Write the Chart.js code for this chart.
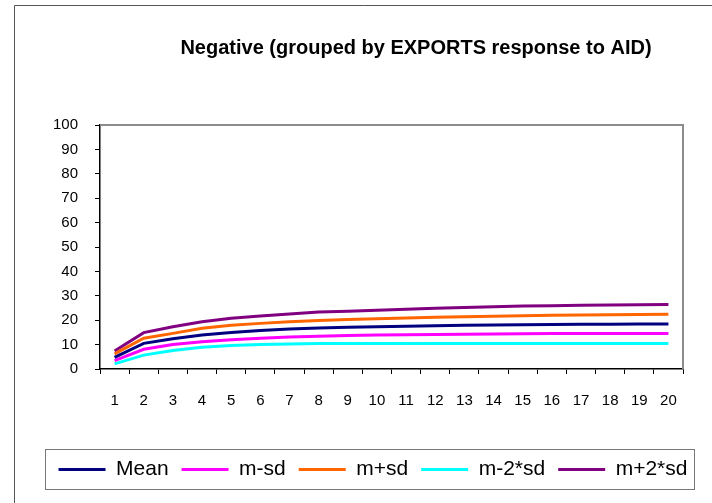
<!DOCTYPE html>
<html>
<head>
<meta charset="utf-8">
<script src="https://cdn.jsdelivr.net/npm/chart.js@4/dist/chart.umd.min.js"></script>
<style>
  html, body { margin: 0; padding: 0; background: #fff; }
  #wrap { width: 712px; height: 503px; }
</style>
</head>
<body>
<div id="wrap"><canvas id="sdChart" width="712" height="503"></canvas></div>
<script>
// Data
var steps = ["1","2","3","4","5","6","7","8","9","10","11","12","13","14","15","16","17","18","19","20"];
var meanVals  = [4.8, 10.5, 12.4, 13.9, 15.0, 15.8, 16.4, 16.8, 17.1, 17.3, 17.5, 17.7, 17.9, 18.0, 18.1, 18.2, 18.3, 18.3, 18.4, 18.4];
var mMinusSd  = [3.4, 8.1, 10.0, 11.2, 12.0, 12.6, 13.1, 13.4, 13.7, 13.9, 14.0, 14.1, 14.2, 14.3, 14.4, 14.5, 14.5, 14.5, 14.6, 14.6];
var mPlusSd   = [6.2, 12.6, 14.6, 16.7, 17.9, 18.7, 19.4, 19.9, 20.3, 20.6, 20.9, 21.2, 21.4, 21.6, 21.8, 22.0, 22.1, 22.2, 22.3, 22.4];
var mMinus2Sd = [2.1, 5.7, 7.6, 8.9, 9.6, 10.0, 10.2, 10.4, 10.4, 10.5, 10.5, 10.5, 10.5, 10.5, 10.5, 10.5, 10.5, 10.5, 10.5, 10.5];
var mPlus2Sd  = [7.4, 14.9, 17.3, 19.4, 20.8, 21.7, 22.5, 23.4, 23.7, 24.1, 24.5, 24.9, 25.2, 25.5, 25.8, 25.9, 26.1, 26.2, 26.3, 26.4];
var yTicks = [0, 10, 20, 30, 40, 50, 60, 70, 80, 90, 100];
var chartTitle = "Negative (grouped by EXPORTS response to AID)";

var FONT = "'Liberation Sans', Arial, Helvetica, sans-serif";

function series(label, values, color) {
    return {
        label: label,
        data: values,
        borderColor: color,
        backgroundColor: color,
        borderWidth: 3,
        pointRadius: 0,
        tension: 0,
        fill: false
    };
}

// Frame, plot box, legend box and the title
var framePlugin = {
    id: 'frame',
    afterLayout: function(chart) {
        // legend sits right of the canvas centre in the original
        chart.legend.left += 17;
        chart.legend.right += 17;
    },
    afterDraw: function(chart) {
        var ctx = chart.ctx;
        var a = chart.chartArea;
        ctx.save();
        // outer frame (only left and top show)
        ctx.strokeStyle = '#555';
        ctx.lineWidth = 1;
        ctx.beginPath();
        ctx.moveTo(14.5, 503);
        ctx.lineTo(14.5, 5.5);
        ctx.lineTo(712, 5.5);
        ctx.stroke();
        // gray top and right of the plot box
        ctx.strokeStyle = '#8c8c8c';
        ctx.lineWidth = 2;
        ctx.beginPath();
        ctx.moveTo(a.left, a.top);
        ctx.lineTo(a.right, a.top);
        ctx.lineTo(a.right, a.bottom);
        ctx.stroke();
        // legend box
        var hb = chart.legend.legendHitBoxes;
        if (hb && hb.length) {
            var first = hb[0], last = hb[hb.length - 1];
            var x0 = first.left - 14, x1 = last.left + last.width + 6;
            var y0 = first.top - 10, y1 = first.top + first.height + 9;
            ctx.strokeStyle = '#777';
            ctx.lineWidth = 1;
            ctx.strokeRect(Math.round(x0) + 0.5, Math.round(y0) + 0.5, Math.round(x1 - x0), Math.round(y1 - y0));
        }
        // title
        ctx.fillStyle = '#000';
        ctx.font = 'bold 20px ' + FONT;
        ctx.textAlign = 'center';
        ctx.textBaseline = 'middle';
        ctx.fillText(chartTitle, 416, 48);
        ctx.restore();
    }
};

var ctx = document.getElementById('sdChart').getContext('2d');
var sdChart = new Chart(ctx, {
    type: 'line',
    data: {
        labels: steps,
        datasets: [
            series('Mean', meanVals, '#000080'),
            series('m-sd', mMinusSd, '#ff00ff'),
            series('m+sd', mPlusSd, '#ff6600'),
            series('m-2*sd', mMinus2Sd, '#00ffff'),
            series('m+2*sd', mPlus2Sd, '#800080')
        ]
    },
    options: {
        responsive: false,
        animation: false,
        layout: {
            padding: { left: 0, right: 0, top: 125, bottom: 13 }
        },
        scales: {
            x: {
                type: 'category',
                offset: true,
                grid: {
                    offset: true,
                    drawOnChartArea: false,
                    drawTicks: true,
                    tickLength: 5,
                    tickColor: '#000'
                },
                border: { display: true, color: '#000', width: 1.5 },
                ticks: {
                    color: '#000',
                    font: { family: FONT, size: 15 },
                    padding: 18,
                    maxRotation: 0,
                    autoSkip: false
                },
                afterFit: function(scale) { scale.height = 77; }
            },
            y: {
                min: 0,
                max: 100,
                afterBuildTicks: function(scale) {
                    scale.ticks = yTicks.map(function(v) { return { value: v }; });
                },
                grid: {
                    drawOnChartArea: false,
                    drawTicks: true,
                    tickLength: 5,
                    tickColor: '#000'
                },
                border: { display: true, color: '#000', width: 1.5 },
                ticks: {
                    color: '#000',
                    font: { family: FONT, size: 15 },
                    padding: 17
                },
                afterFit: function(scale) { scale.width = 100; }
            },
            // empty axis that only keeps the right margin
            spacer: {
                position: 'right',
                grid: { display: false },
                border: { display: false },
                ticks: { display: false },
                afterFit: function(scale) { scale.width = 29; }
            }
        },
        plugins: {
            title: { display: false },
            tooltip: { enabled: false },
            legend: {
                display: true,
                position: 'bottom',
                labels: {
                    usePointStyle: true,
                    pointStyle: 'line',
                    pointStyleWidth: 47,
                    boxHeight: 21,
                    padding: 13,
                    color: '#000',
                    font: { family: FONT, size: 21 }
                }
            }
        }
    },
    plugins: [framePlugin]
});
</script>
</body>
</html>
